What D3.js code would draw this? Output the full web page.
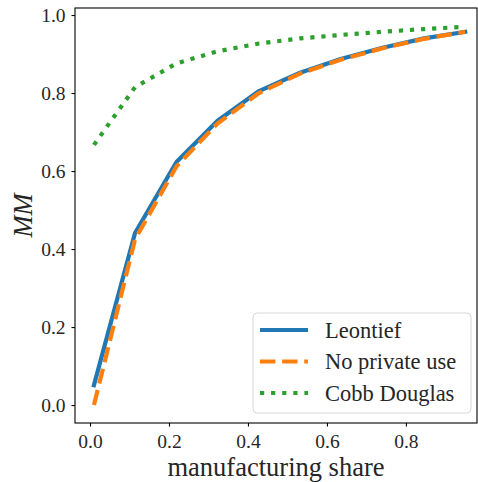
<!DOCTYPE html>
<html>
<head>
<meta charset="utf-8">
<script src="https://cdn.jsdelivr.net/npm/d3@7"></script>
<style>
  html, body { margin: 0; padding: 0; background: #fff; }
  svg { display: block; }
  text { font-family: "Liberation Serif", "DejaVu Serif", serif; fill: #262626; }
</style>
</head>
<body>
<svg id="chart" width="478" height="482"></svg>
<script>
// Manufacturing share grid
const shares = [0.01, 0.114, 0.219, 0.323, 0.428, 0.532, 0.637, 0.741, 0.846, 0.95];

// MM under each specification
const leontief    = [0.051, 0.441, 0.623, 0.729, 0.805, 0.852, 0.888, 0.916, 0.940, 0.957];
const noPrivate   = [0.000, 0.425, 0.612, 0.722, 0.800, 0.850, 0.886, 0.915, 0.939, 0.957];
const cobbDouglas = [0.667, 0.815, 0.876, 0.907, 0.927, 0.940, 0.949, 0.957, 0.964, 0.970];

const xTicks = [0.0, 0.2, 0.4, 0.6, 0.8];
const yTicks = [0.0, 0.2, 0.4, 0.6, 0.8, 1.0];

const seriesNames = ["Leontief", "No private use", "Cobb Douglas"];
const seriesValues = [leontief, noPrivate, cobbDouglas];
const seriesColors = ["#1f77b4", "#ff7f0e", "#2ca02c"];
const seriesDash = [null, "15.4,6.7", "4.2,6.9"];
const seriesCap = ["square", "butt", "butt"];

const serif = '"Liberation Serif", "DejaVu Serif", serif';

const svg = d3.select("#chart");
const plot = { left: 75, right: 477, top: 8, bottom: 423 };

const x = d3.scaleLinear().domain([-0.038, 0.98]).range([plot.left, plot.right]);
const y = d3.scaleLinear().domain([-0.046, 1.018]).range([plot.bottom, plot.top]);

// Curves
const line = d3.line().x(d => x(d[0])).y(d => y(d[1]));
seriesValues.forEach((vals, i) => {
  svg.append("path")
    .datum(shares.map((s, k) => [s, vals[k]]))
    .attr("d", line)
    .attr("fill", "none")
    .attr("stroke", seriesColors[i])
    .attr("stroke-width", 4.2)
    .attr("stroke-linejoin", "round")
    .attr("stroke-linecap", seriesCap[i])
    .attr("stroke-dasharray", seriesDash[i]);
});

// Axes
const xAxis = d3.axisBottom(x).tickValues(xTicks).tickFormat(d3.format(".1f"))
  .tickSizeInner(3.5).tickSizeOuter(0).tickPadding(3);
const yAxis = d3.axisLeft(y).tickValues(yTicks).tickFormat(d3.format(".1f"))
  .tickSizeInner(3.5).tickSizeOuter(0).tickPadding(6);

const gx = svg.append("g").attr("transform", `translate(0,${plot.bottom})`).call(xAxis);
const gy = svg.append("g").attr("transform", `translate(${plot.left},0)`).call(yAxis);
[gx, gy].forEach(g => {
  g.attr("font-family", serif).attr("font-size", 19.5);
  g.select(".domain").remove();
  g.selectAll(".tick line").attr("stroke", "#000").attr("stroke-width", 1.1);
  g.selectAll(".tick text").attr("fill", "#262626")
    .style("font-family", serif).style("font-size", "19.5px");
});
gx.selectAll(".tick text").attr("dy", null).attr("y", 25);
gy.selectAll(".tick text").attr("dy", "0.32em");

// Frame
svg.append("rect")
  .attr("x", plot.left).attr("y", plot.top)
  .attr("width", plot.right - plot.left).attr("height", plot.bottom - plot.top)
  .attr("fill", "none").attr("stroke", "#000").attr("stroke-width", 1.1);

// Axis labels
svg.append("text")
  .attr("x", (plot.left + plot.right) / 2).attr("y", 476)
  .attr("text-anchor", "middle")
  .style("font-size", "26.5px")
  .text("manufacturing share");

svg.append("text")
  .attr("transform", `translate(32,${(plot.top + plot.bottom) / 2}) rotate(-90)`)
  .attr("text-anchor", "middle")
  .style("font-size", "26.5px").style("font-style", "italic")
  .text("MM");

// Legend
const lg = svg.append("g");
lg.append("rect")
  .attr("x", 253).attr("y", 313).attr("width", 218).attr("height", 100)
  .attr("rx", 4).attr("ry", 4)
  .attr("fill", "#fff").attr("fill-opacity", 0.8)
  .attr("stroke", "#d6d6d6").attr("stroke-width", 1);
seriesNames.forEach((name, i) => {
  const cy = 330 + i * 31.5;
  lg.append("line")
    .attr("x1", 260).attr("x2", 308).attr("y1", cy).attr("y2", cy)
    .attr("stroke", seriesColors[i]).attr("stroke-width", 4.2)
    .attr("stroke-linecap", "butt")
    .attr("stroke-dasharray", seriesDash[i]);
  lg.append("text")
    .attr("x", 325).attr("y", cy + 7.5)
    .style("font-size", "22.5px")
    .text(name);
});
</script>
</body>
</html>
